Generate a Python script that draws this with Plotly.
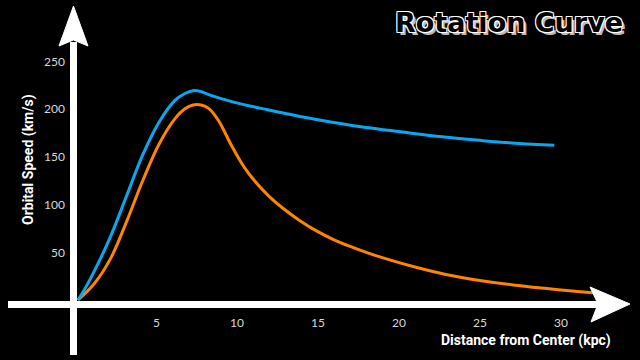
import plotly.graph_objects as go

# ---- data ----
blue_x = [0, 0.5, 1.0, 2.0, 3.0, 4.0, 5.0, 6.0, 6.6, 7.1, 7.6, 8.2, 9.6, 11.7, 13.7, 15.7, 17.8, 19.9, 22.3, 24.8, 27.0, 29.4]
blue_v = [0, 14, 30, 66, 109, 152, 186, 209, 216, 219, 218, 214, 207, 199, 192, 186, 180.5, 176, 171, 167, 164, 162]

orange_x = [0, 1.0, 2.0, 3.0, 4.0, 5.0, 6.0, 6.6, 7.1, 7.6, 8.1, 8.7, 9.4, 10.0, 10.6, 11.7, 12.65, 13.7,
            14.75, 15.74, 16.8, 17.84, 18.83, 20.68, 22.78, 24.8, 26.85, 28.95, 31.0, 31.8]
orange_v = [0, 17, 43, 82, 125, 163, 190, 200, 204, 204, 200, 187, 164, 146, 131, 110, 96, 83,
            72, 63.5, 56, 49.5, 44, 35, 26.5, 20.5, 15.8, 12, 8.6, 7.5]

x_ticks = [5, 10, 15, 20, 25, 30]
y_ticks = [50, 100, 150, 200, 250]

W, H = 640, 360
X0, Y0, SX, SY = 78, 300, 16.2, 0.956


def P(px, py):
    return px / W, 1 - py / H


def path(points):
    s = ""
    for i, (px, py) in enumerate(points):
        x, y = P(px, py)
        s += ("M" if i == 0 else "L") + f"{x:.5f},{y:.5f} "
    return s + "Z"


fig = go.Figure()
fig.add_trace(go.Scatter(x=orange_x, y=orange_v, mode="lines",
                         line=dict(color="#ff8400", width=3, shape="spline", smoothing=1.0),
                         hoverinfo="skip"))
fig.add_trace(go.Scatter(x=blue_x, y=blue_v, mode="lines",
                         line=dict(color="#08a8f0", width=3, shape="spline", smoothing=1.0),
                         hoverinfo="skip"))

shapes = []
# vertical axis line
x1, y1 = P(73.5, 355)
x2, y2 = P(73.5, 42)
shapes.append(dict(type="line", xref="paper", yref="paper", x0=x1, y0=y1, x1=x2, y1=y2,
                   line=dict(color="white", width=7), layer="above"))
# horizontal axis line
x1, y1 = P(8, 304.5)
x2, y2 = P(600, 304.5)
shapes.append(dict(type="line", xref="paper", yref="paper", x0=x1, y0=y1, x1=x2, y1=y2,
                   line=dict(color="white", width=7), layer="above"))
# arrow heads
shapes.append(dict(type="path", xref="paper", yref="paper",
                   path=path([(73.5, 6), (88, 46), (73.5, 40), (59, 46)]),
                   fillcolor="white", line=dict(color="white", width=1), layer="above"))
shapes.append(dict(type="path", xref="paper", yref="paper",
                   path=path([(630, 304), (590, 287), (598, 304), (591, 322)]),
                   fillcolor="white", line=dict(color="white", width=1), layer="above"))

annotations = []
tick_font = dict(family="Lato, DejaVu Sans", size=12, color="#d8d8d8")
for t in x_ticks:
    annotations.append(dict(x=t, y=0, xref="x", yref="y", text=str(t), showarrow=False,
                            font=tick_font, xanchor="center", yanchor="middle",
                            xshift=-3, yshift=-22))
for t in y_ticks:
    annotations.append(dict(x=0, y=t, xref="x", yref="y", text=str(t), showarrow=False,
                            font=tick_font, xanchor="right", yanchor="middle",
                            xshift=-11))
ax_font = dict(family="Liberation Sans Narrow, Roboto, sans-serif", size=14, color="white")
px, py = P(28, 160)
annotations.append(dict(x=px, y=py, xref="paper", yref="paper", text="<b>Orbital Speed (km/s)</b>",
                        showarrow=False, textangle=-90, font=ax_font,
                        xanchor="center", yanchor="middle"))
px, py = P(526, 340)
annotations.append(dict(x=px, y=py, xref="paper", yref="paper", text="<b>Distance from Center (kpc)</b>",
                        showarrow=False, font=ax_font, xanchor="center", yanchor="middle"))
px, py = P(509, 22)
annotations.append(dict(x=px, y=py, xref="paper", yref="paper", text="<b>Rotation Curve</b>",
                        showarrow=False,
                        font=dict(family="DejaVu Sans", size=27, color="black",
                                  shadow="1px 1px 0 white, -1px -1px 0 white, 1px -1px 0 white, -1px 1px 0 white, 3px 3px 0 #bbbbbb"),
                        xanchor="center", yanchor="middle"))

fig.update_layout(
    width=W, height=H,
    margin=dict(l=0, r=0, t=0, b=0),
    paper_bgcolor="black", plot_bgcolor="black",
    showlegend=False,
    xaxis=dict(range=[(0 - X0) / SX, (W - X0) / SX], visible=False, fixedrange=True),
    yaxis=dict(range=[(Y0 - H) / SY, Y0 / SY], visible=False, fixedrange=True),
    shapes=shapes, annotations=annotations,
)

fig.write_html("out.html")
